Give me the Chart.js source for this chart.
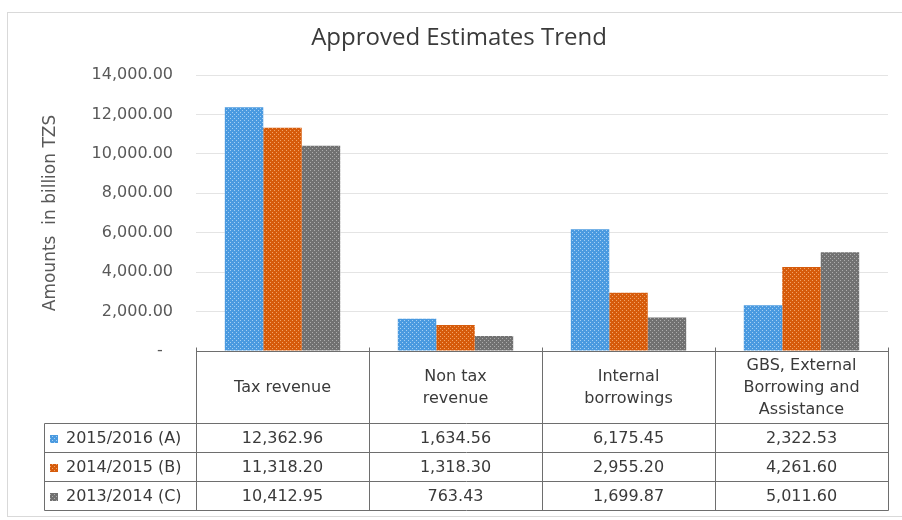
<!DOCTYPE html>
<html>
<head>
<meta charset="utf-8">
<title>Approved Estimates Trend</title>
<script src="https://cdn.jsdelivr.net/npm/chart.js@4/dist/chart.umd.min.js"></script>
<style>
  html, body { margin: 0; padding: 0; background: #ffffff; }
  #wrap { width: 902px; height: 520px; }
</style>
</head>
<body>
<div id="wrap"><canvas id="estimatesChart" width="902" height="520"></canvas></div>
<script>
// revenue categories (header cells of the table, one entry per line)
const categories = [
    ['Tax revenue'],
    ['Non tax', 'revenue'],
    ['Internal', 'borrowings'],
    ['GBS, External', 'Borrowing and', 'Assistance'],
];
const seriesNames = ['2015/2016 (A)', '2014/2015 (B)', '2013/2014 (C)'];

// approved estimates, billion TZS
const fy2015_16 = [12362.96, 1634.56, 6175.45, 2322.53];
const fy2014_15 = [11318.20, 1318.30, 2955.20, 4261.60];
const fy2013_14 = [10412.95, 763.43, 1699.87, 5011.60];

const yTicks = [0, 2000, 4000, 6000, 8000, 10000, 12000, 14000];

const chartTitle = 'Approved Estimates Trend';

const FONT = "'DejaVu Sans', Verdana, sans-serif";
const TEXT = '#3a3a3a';
const LINE = '#6e6e6e';

const fmt = (v) => v.toLocaleString('en-US', { minimumFractionDigits: 2, maximumFractionDigits: 2 });

// dotted fill like the office "dots" pattern
const dotted = (base, dot) => {
    const c = document.createElement('canvas');
    c.width = 4;
    c.height = 4;
    const g = c.getContext('2d');
    g.fillStyle = base;
    g.fillRect(0, 0, 4, 4);
    g.fillStyle = dot;
    g.fillRect(0, 0, 1, 1);
    g.fillRect(2, 2, 1, 1);
    return g.createPattern(c, 'repeat');
};

const fills = [
    dotted('#4a9ae0', '#a4cff3'),
    dotted('#d65b0b', '#f2a468'),
    dotted('#717171', '#adadad'),
];
const series = [fy2015_16, fy2014_15, fy2013_14];

// white background, light frame and the title
const frame = {
    id: 'frame',
    beforeDraw(chart) {
        const { ctx, width, height } = chart;
        ctx.save();
        ctx.fillStyle = '#ffffff';
        ctx.fillRect(0, 0, width, height);
        ctx.strokeStyle = '#d9d9d9';
        ctx.lineWidth = 1;
        ctx.strokeRect(7.5, 12.5, width, height - 16);
        ctx.fillStyle = TEXT;
        ctx.font = "24px 'Open Sans', Lato, sans-serif";
        ctx.textAlign = 'center';
        ctx.textBaseline = 'middle';
        ctx.fillText(chartTitle, 459, 38);
        ctx.restore();
    },
};

// data table drawn under the plot, columns follow the category scale
const dataTable = {
    id: 'dataTable',
    afterDraw(chart) {
        const { ctx, chartArea: area } = chart;
        const n = categories.length;
        const colW = area.width / n;
        const top = Math.round(area.bottom) + 0.5;
        const headBottom = top + 72;
        const rowH = 29;
        const legendLeft = 44.5;
        const bottom = headBottom + rowH * series.length;
        const colX = (i) => Math.round(area.left + i * colW) + 0.5;

        ctx.save();
        ctx.strokeStyle = LINE;
        ctx.lineWidth = 1;
        ctx.beginPath();
        ctx.moveTo(colX(0), top);
        ctx.lineTo(colX(n), top);
        for (let r = 0; r <= series.length; r++) {
            const y = headBottom + r * rowH;
            ctx.moveTo(legendLeft, y);
            ctx.lineTo(colX(n), y);
        }
        ctx.moveTo(legendLeft, headBottom);
        ctx.lineTo(legendLeft, bottom);
        for (let i = 0; i <= n; i++) {
            ctx.moveTo(colX(i), top - 4);
            ctx.lineTo(colX(i), bottom);
        }
        ctx.stroke();

        ctx.fillStyle = TEXT;
        ctx.font = `16px ${FONT}`;
        ctx.textAlign = 'center';
        ctx.textBaseline = 'middle';
        categories.forEach((lines, i) => {
            const cx = area.left + (i + 0.5) * colW;
            const mid = (top + headBottom) / 2;
            lines.forEach((line, k) => {
                ctx.fillText(line, cx, mid + (k - (lines.length - 1) / 2) * 22);
            });
            series.forEach((vals, r) => {
                ctx.fillText(fmt(vals[i]), cx, headBottom + (r + 0.5) * rowH + 1);
            });
        });

        ctx.textAlign = 'left';
        seriesNames.forEach((name, r) => {
            const cy = headBottom + (r + 0.5) * rowH;
            ctx.fillStyle = fills[r];
            ctx.fillRect(50, Math.round(cy - 3), 8, 8);
            ctx.fillStyle = TEXT;
            ctx.fillText(name, 66, cy + 1);
        });
        ctx.restore();
    },
};

new Chart('estimatesChart', {
    type: 'bar',
    data: {
        labels: categories.map((c) => c.join(' ')),
        datasets: seriesNames.map((name, i) => ({
            label: name,
            data: series[i],
            backgroundColor: fills[i],
            borderWidth: 0,
            categoryPercentage: 0.667,
            barPercentage: 1.0,
        })),
    },
    options: {
        responsive: false,
        animation: false,
        layout: { padding: { top: 75, left: 8, right: 14, bottom: 169 } },
        plugins: {
            legend: { display: false },
            tooltip: { enabled: false },
            title: { display: false },
        },
        scales: {
            x: { display: false },
            y: {
                min: 0,
                max: 14000,
                afterFit: (s) => { s.width = 188; },
                afterBuildTicks: (s) => { s.ticks = yTicks.map((v) => ({ value: v })); },
                border: { display: false },
                grid: { color: '#e4e4e4', drawTicks: false },
                ticks: {
                    color: '#595959',
                    padding: 23,
                    font: { family: FONT, size: 16 },
                    callback: (v) => (v === 0 ? '-  ' : fmt(v)),
                },
                title: {
                    display: true,
                    text: 'Amounts  in billion TZS',
                    color: '#595959',
                    font: { family: FONT, size: 17 },
                    padding: { top: 32, bottom: 0 },
                },
            },
        },
    },
    plugins: [frame, dataTable],
});
</script>
</body>
</html>
